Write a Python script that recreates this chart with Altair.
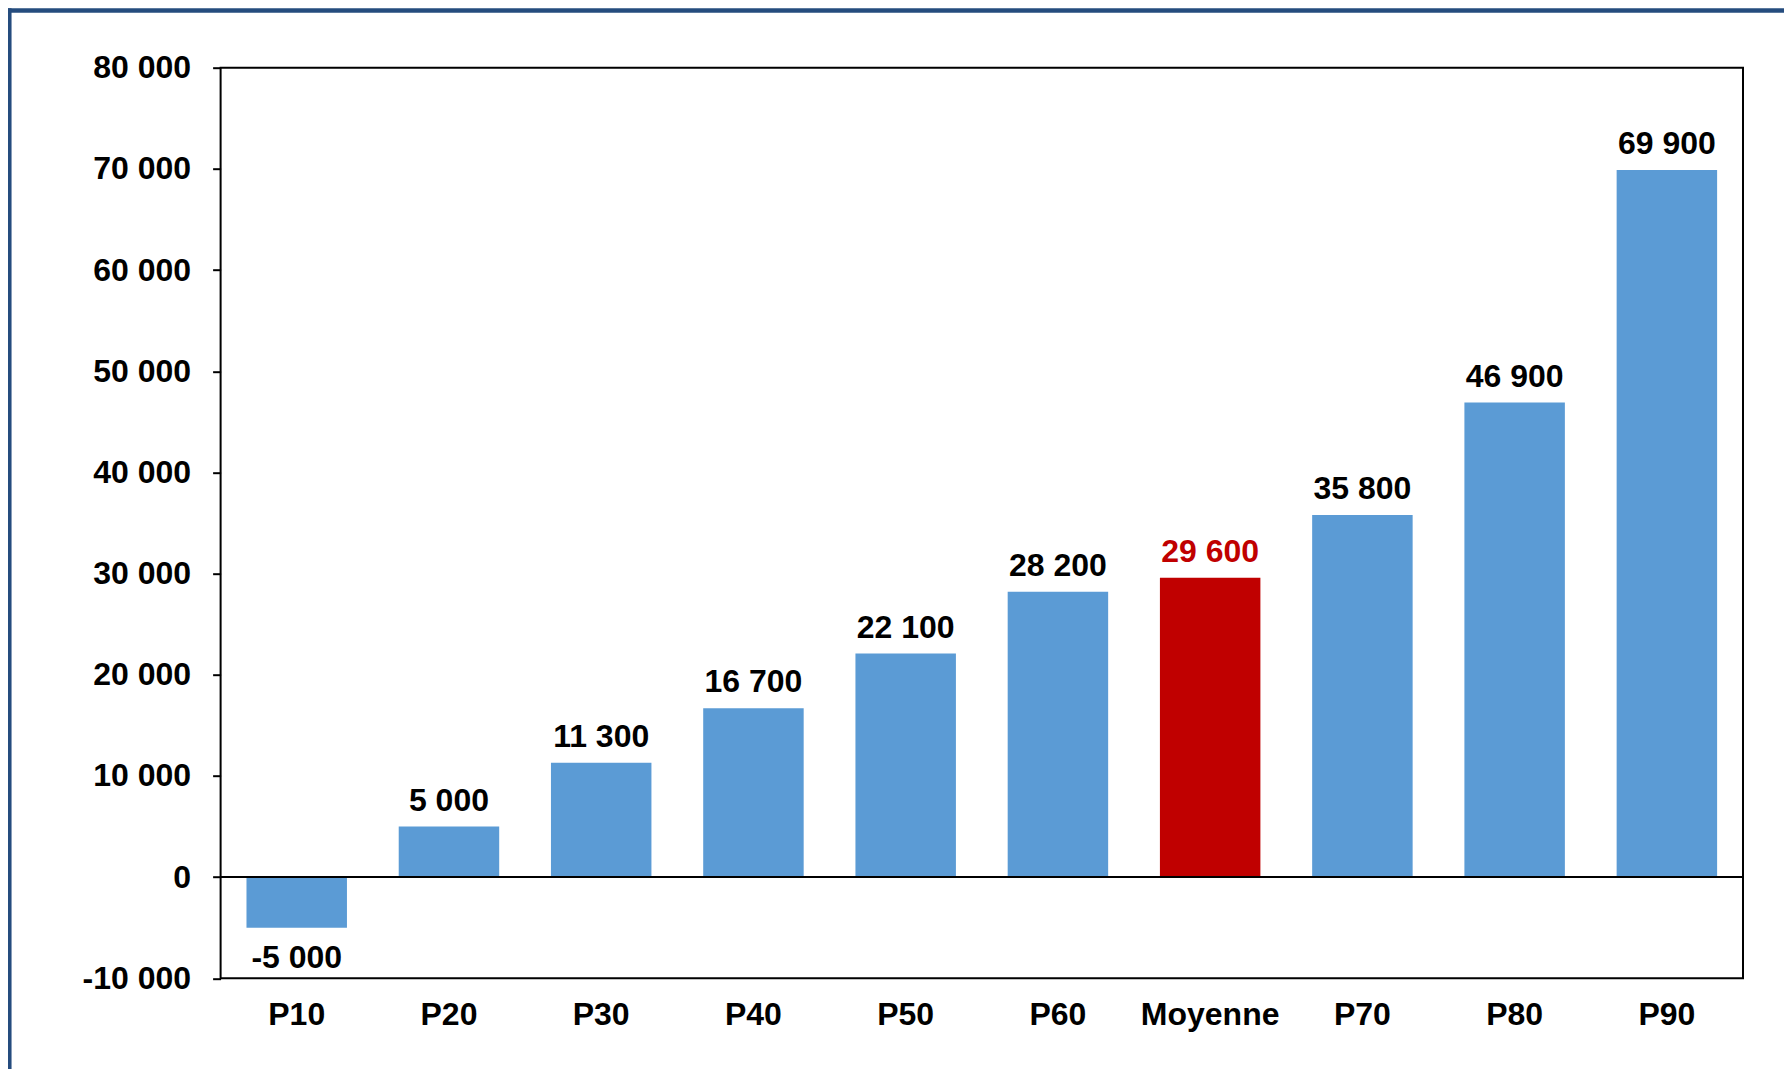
import altair as alt
import pandas as pd

categories = ["P10", "P20", "P30", "P40", "P50", "P60", "Moyenne", "P70", "P80", "P90"]
values = [-5000, 5000, 11300, 16700, 22100, 28200, 29600, 35800, 46900, 69900]
highlight = "Moyenne"
y_ticks = [-10000, 0, 10000, 20000, 30000, 40000, 50000, 60000, 70000, 80000]

FONT = "Liberation Sans"
FS = 32
W, H = 1522.4, 910.6
PAD = {"left": 212.6, "top": 59.7, "right": 41, "bottom": 91}

df = pd.DataFrame({"cat": categories, "val": values})
df["label"] = [f"{v:,}".replace(",", " ") for v in values]
df["type"] = ["moy" if c == highlight else "p" for c in categories]

x = alt.X(
    "cat:N", sort=categories,
    scale=alt.Scale(paddingInner=0.34, paddingOuter=0.17),
    axis=alt.Axis(title=None, labelAngle=0, ticks=False, tickSize=0, domain=False,
                  labelFont=FONT, labelFontSize=FS, labelFontWeight="bold",
                  labelColor="black", labelPadding=21, labelBaseline="top"),
)
y = alt.Y(
    "val:Q",
    scale=alt.Scale(domain=[-10000, 80000], nice=False, zero=False),
    axis=alt.Axis(title=None, values=y_ticks, grid=False, domain=False,
                  tickSize=8, tickWidth=2, tickColor="black", labelPadding=22,
                  labelFont=FONT, labelFontSize=FS, labelFontWeight="bold",
                  labelColor="black",
                  labelExpr="replace(replace(format(datum.value, ','), ',', ' '), '\u2212', '-')"),
)

base = alt.Chart(df)

bars = base.mark_bar().encode(
    x=x, y=y,
    color=alt.Color("type:N", scale=alt.Scale(domain=["p", "moy"], range=["#5B9BD5", "#C00000"]), legend=None),
)

text_color = alt.condition("datum.type == 'moy'", alt.value("#C00000"), alt.value("black"))

pos_labels = base.transform_filter("datum.val >= 0").mark_text(
    baseline="alphabetic", dy=-16, font=FONT, fontSize=FS, fontWeight="bold"
).encode(x=x, y=y, text="label:N", color=text_color)

neg_labels = base.transform_filter("datum.val < 0").mark_text(
    baseline="top", dy=15, font=FONT, fontSize=FS, fontWeight="bold"
).encode(x=x, y=y, text="label:N", color=text_color)

one = alt.Data(values=[{"a": 1}])
zero_rule = alt.Chart(one).mark_rule(color="black", strokeWidth=2).encode(y=alt.datum(0))

frame_color = "#254C7E"
frame_left = alt.Chart(one).mark_rule(color=frame_color, strokeWidth=4.5).encode(
    x=alt.value(-211.3), y=alt.value(-59.5), y2=alt.value(H + PAD["bottom"])
)
frame_top = alt.Chart(one).mark_rule(color=frame_color, strokeWidth=4.5).encode(
    y=alt.value(-57.2), x=alt.value(-213.5), x2=alt.value(W + PAD["right"])
)

chart = alt.layer(bars, zero_rule, pos_labels, neg_labels, frame_left, frame_top).properties(
    width=W, height=H, padding=PAD, autosize=alt.AutoSizeParams(type="none"),
    background="white",
).configure_view(stroke="black", strokeWidth=2)

chart.save("out.html", embed_options={"renderer": "svg", "actions": False})
